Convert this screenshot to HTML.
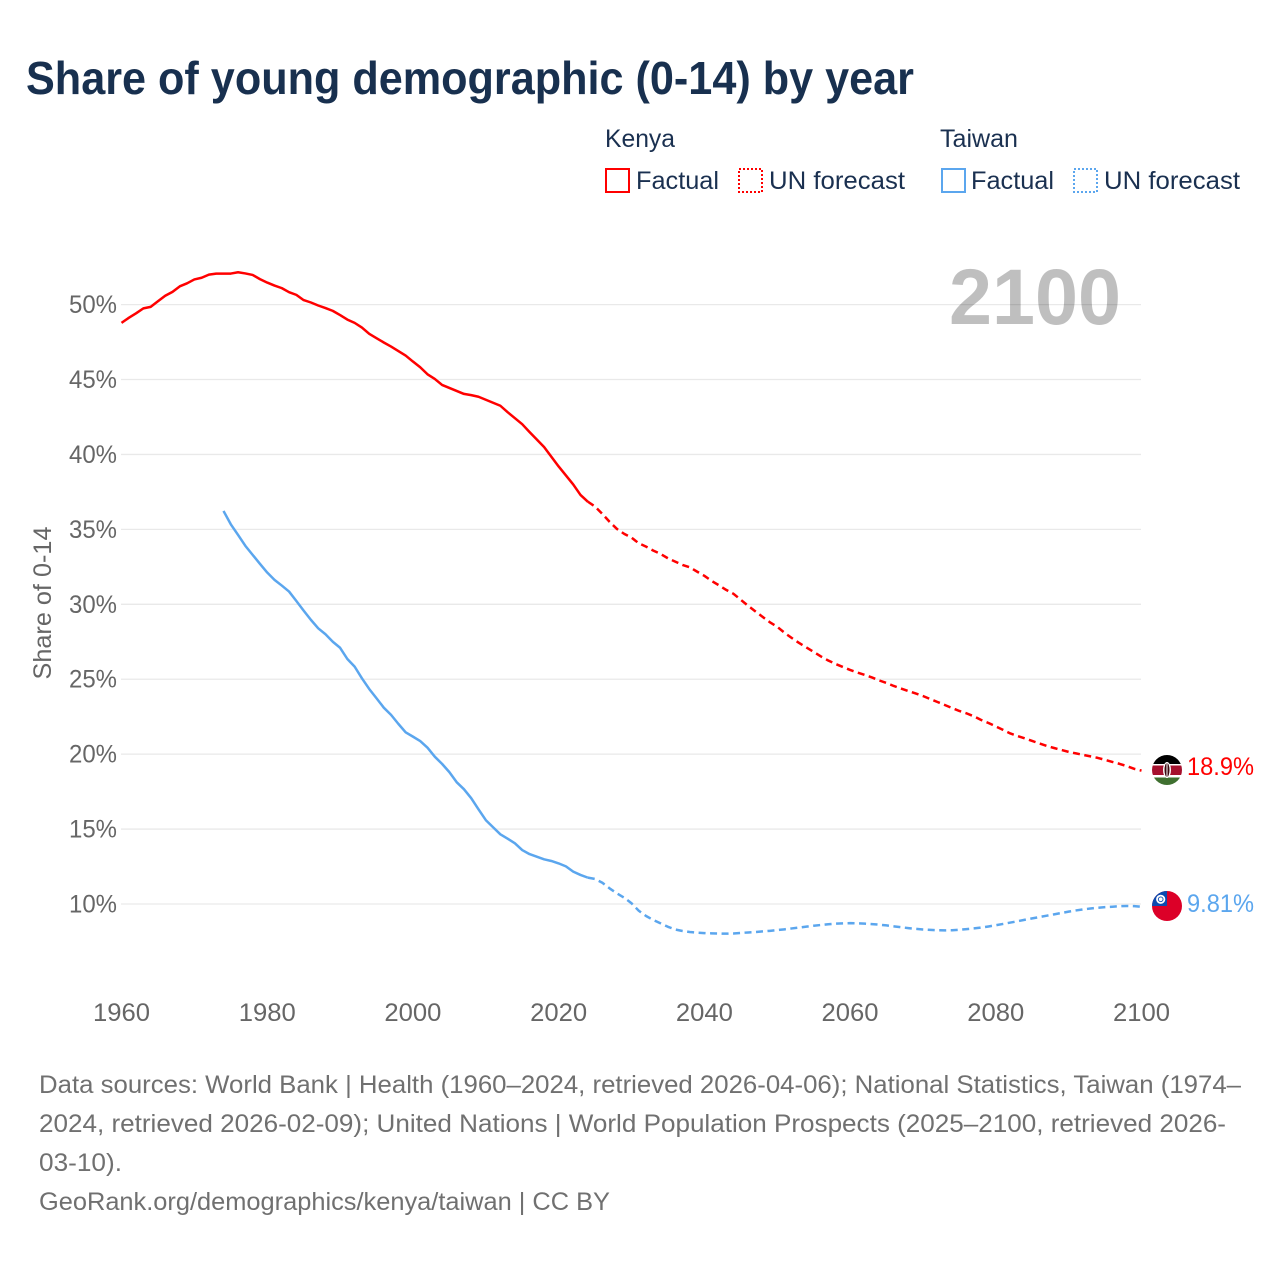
<!DOCTYPE html>
<html lang="en">
<head>
<meta charset="utf-8">
<title>Share of young demographic (0-14) by year</title>
<style>
html,body{margin:0;padding:0;background:#fff;}
svg{display:block;}
text{font-family:"Liberation Sans",sans-serif;}
</style>
</head>
<body>
<svg id="chart" xmlns="http://www.w3.org/2000/svg" width="1280" height="1280" viewBox="0 0 1280 1280">
  <defs>
    <clipPath id="kenya-clip"><circle cx="1167" cy="770" r="15"/></clipPath>
    <clipPath id="taiwan-clip"><circle cx="1167" cy="906" r="15"/></clipPath>
  </defs>
  <rect x="0" y="0" width="1280" height="1280" fill="#ffffff"/>
  <text x="26" y="94" font-size="46" font-weight="700" fill="#18304f" textLength="888" lengthAdjust="spacingAndGlyphs">Share of young demographic (0-14) by year</text>

  <g font-size="25" fill="#1a3050">
    <text x="605" y="147" textLength="70" lengthAdjust="spacingAndGlyphs">Kenya</text>
    <text x="940" y="147" textLength="78" lengthAdjust="spacingAndGlyphs">Taiwan</text>
    <rect x="606" y="169" width="23" height="23" fill="none" stroke="#ff0000" stroke-width="2"/>
    <text x="636" y="189" textLength="83" lengthAdjust="spacingAndGlyphs">Factual</text>
    <rect x="739" y="169" width="23" height="23" fill="none" stroke="#ff0000" stroke-width="2" stroke-dasharray="2,2"/>
    <text x="769" y="189" textLength="136" lengthAdjust="spacingAndGlyphs">UN forecast</text>
    <rect x="942" y="169" width="23" height="23" fill="none" stroke="#5ba6ee" stroke-width="2"/>
    <text x="971" y="189" textLength="83" lengthAdjust="spacingAndGlyphs">Factual</text>
    <rect x="1074" y="169" width="23" height="23" fill="none" stroke="#5ba6ee" stroke-width="2" stroke-dasharray="2,2"/>
    <text x="1104" y="189" textLength="136" lengthAdjust="spacingAndGlyphs">UN forecast</text>
  </g>

  <g id="grid"></g>
  <g id="yticks"></g>
  <g id="xticks"></g>
  <text transform="translate(51,603) rotate(-90)" text-anchor="middle" font-size="25" fill="#666666" textLength="153" lengthAdjust="spacingAndGlyphs">Share of 0-14</text>
  <text x="949" y="324" font-size="79" font-weight="700" fill="#000000" fill-opacity="0.25" textLength="172" lengthAdjust="spacingAndGlyphs">2100</text>
  <g id="series"></g>

  <g clip-path="url(#kenya-clip)">
    <rect x="1150" y="752" width="34" height="12" fill="#000000"/>
    <rect x="1150" y="764" width="34" height="13.5" fill="#ffffff"/>
    <rect x="1150" y="765.5" width="34" height="9.5" fill="#a5112e"/>
    <rect x="1150" y="777.5" width="34" height="10" fill="#3f7030"/>
    <ellipse cx="1167" cy="770" rx="4" ry="8" fill="#ffffff"/>
    <ellipse cx="1167" cy="770" rx="2.5" ry="7" fill="#3b0a10"/>
    <rect x="1166.5" y="762" width="1" height="16" fill="#ffffff"/>
  </g>
  <g clip-path="url(#taiwan-clip)">
    <rect x="1150" y="889" width="34" height="34" fill="#dc0028"/>
    <rect x="1150" y="889" width="17" height="17" fill="#0b4ab0"/>
    <circle cx="1160.7" cy="899.3" r="4.6" fill="#ffffff"/>
    <circle cx="1160.7" cy="899.3" r="2.8" fill="#0b4ab0"/>
    <circle cx="1160.7" cy="899.3" r="1.9" fill="#ffffff"/>
  </g>
  <text id="kenya-end-label" x="1187" y="775" font-size="25" fill="#ff0000" textLength="67" lengthAdjust="spacingAndGlyphs"></text>
  <text id="taiwan-end-label" x="1187" y="912" font-size="25" fill="#5ba6ee" textLength="67" lengthAdjust="spacingAndGlyphs"></text>

  <g font-size="25" fill="#707070">
    <text x="39" y="1093" textLength="1202" lengthAdjust="spacingAndGlyphs">Data sources: World Bank | Health (1960–2024, retrieved 2026-04-06); National Statistics, Taiwan (1974–</text>
    <text x="39" y="1132" textLength="1187" lengthAdjust="spacingAndGlyphs">2024, retrieved 2026-02-09); United Nations | World Population Prospects (2025–2100, retrieved 2026-</text>
    <text x="39" y="1171" textLength="83" lengthAdjust="spacingAndGlyphs">03-10).</text>
    <text x="39" y="1210" textLength="571" lengthAdjust="spacingAndGlyphs">GeoRank.org/demographics/kenya/taiwan | CC BY</text>
  </g>
</svg>
<script>
var xTickYears = [1960, 1980, 2000, 2020, 2040, 2060, 2080, 2100];
var yTickValues = [10, 15, 20, 25, 30, 35, 40, 45, 50];
var kenyaFactualStart = 1960;
var kenyaFactual = [48.78,49.12,49.42,49.75,49.85,50.22,50.59,50.85,51.22,51.42,51.68,51.79,52.0,52.07,52.07,52.07,52.16,52.08,51.98,51.7,51.47,51.27,51.1,50.83,50.65,50.3,50.14,49.94,49.77,49.58,49.3,49.0,48.78,48.47,48.05,47.76,47.47,47.2,46.9,46.6,46.2,45.82,45.35,45.04,44.64,44.44,44.24,44.04,43.96,43.85,43.65,43.45,43.25,42.82,42.42,42.02,41.5,41.0,40.5,39.85,39.2,38.6,38.0,37.3,36.85];
var kenyaForecastStart = 2024;
var kenyaForecast = [36.85,36.52,36.03,35.5,35.03,34.7,34.45,34.07,33.85,33.58,33.36,33.07,32.85,32.63,32.47,32.18,31.9,31.56,31.27,30.96,30.7,30.3,29.9,29.53,29.16,28.8,28.5,28.1,27.75,27.42,27.12,26.82,26.52,26.25,26.02,25.82,25.62,25.45,25.29,25.12,24.92,24.75,24.55,24.38,24.21,24.05,23.88,23.68,23.48,23.28,23.08,22.88,22.72,22.52,22.28,22.08,21.85,21.62,21.38,21.21,21.05,20.88,20.71,20.55,20.41,20.28,20.15,20.05,19.95,19.85,19.75,19.62,19.48,19.35,19.2,19.02,18.9];
var taiwanFactualStart = 1974;
var taiwanFactual = [36.23,35.34,34.63,33.9,33.3,32.7,32.12,31.63,31.25,30.85,30.22,29.58,28.96,28.4,28.0,27.5,27.1,26.35,25.84,25.06,24.35,23.73,23.1,22.62,22.02,21.46,21.17,20.87,20.43,19.83,19.35,18.8,18.13,17.66,17.06,16.32,15.6,15.12,14.65,14.36,14.05,13.6,13.33,13.16,12.98,12.87,12.71,12.51,12.16,11.94,11.76];
var taiwanForecastStart = 2024;
var taiwanForecast = [11.76,11.67,11.42,11.04,10.71,10.42,10.05,9.55,9.2,8.93,8.71,8.48,8.3,8.2,8.13,8.09,8.06,8.04,8.03,8.02,8.03,8.07,8.1,8.13,8.17,8.21,8.26,8.31,8.37,8.43,8.49,8.55,8.6,8.65,8.69,8.71,8.72,8.71,8.69,8.66,8.62,8.57,8.51,8.45,8.39,8.34,8.3,8.27,8.25,8.24,8.25,8.28,8.32,8.37,8.43,8.5,8.58,8.67,8.76,8.85,8.95,9.04,9.13,9.22,9.31,9.4,9.49,9.57,9.64,9.7,9.75,9.79,9.82,9.85,9.87,9.86,9.81];
var kenyaEndLabel = "18.9%";
var taiwanEndLabel = "9.81%";

var NS = "http://www.w3.org/2000/svg";
function xScale(year) { return 121.5 + (year - 1960) * (1020 / 140); }
function yScale(v) { return 904 - (v - 10) * 14.985; }
function pathFor(start, values) {
  var d = "";
  for (var i = 0; i < values.length; i++) {
    d += (i ? "L" : "M") + xScale(start + i).toFixed(2) + " " + yScale(values[i]).toFixed(2);
  }
  return d;
}
function drawLine(start, values, color, dashed, name) {
  var p = document.createElementNS(NS, "path");
  p.setAttribute("d", pathFor(start, values));
  p.setAttribute("fill", "none");
  p.setAttribute("stroke", color);
  p.setAttribute("stroke-width", "2.5");
  p.setAttribute("stroke-linejoin", "round");
  if (dashed) { p.setAttribute("stroke-dasharray", "7,4.5"); }
  
  
  document.getElementById("series").appendChild(p);
}
var gridGroup = document.getElementById("grid");
var yGroup = document.getElementById("yticks");
var xGroup = document.getElementById("xticks");
yTickValues.forEach(function (v) {
  var line = document.createElementNS(NS, "line");
  line.setAttribute("x1", 121);
  line.setAttribute("x2", 1141);
  line.setAttribute("y1", yScale(v));
  line.setAttribute("y2", yScale(v));
  line.setAttribute("stroke", "#e9e9e9");
  line.setAttribute("stroke-width", "1.3");
  
  
  gridGroup.appendChild(line);
  var t = document.createElementNS(NS, "text");
  t.setAttribute("x", 69);
  t.setAttribute("y", yScale(v) + 8.5);
  t.setAttribute("font-size", "25");
  t.setAttribute("fill", "#666666");
  t.setAttribute("textLength", "48");
  t.setAttribute("lengthAdjust", "spacingAndGlyphs");
  t.textContent = v + "%";
  
  
  yGroup.appendChild(t);
});
xTickYears.forEach(function (yr) {
  var t = document.createElementNS(NS, "text");
  t.setAttribute("x", xScale(yr) - 28.5);
  t.setAttribute("y", 1021);
  t.setAttribute("font-size", "25");
  t.setAttribute("fill", "#666666");
  t.setAttribute("textLength", "57");
  t.setAttribute("lengthAdjust", "spacingAndGlyphs");
  t.textContent = yr;
  
  
  xGroup.appendChild(t);
});
drawLine(kenyaFactualStart, kenyaFactual, "#ff0000", false, "kenya-factual-line");
drawLine(kenyaForecastStart, kenyaForecast, "#ff0000", true, "kenya-forecast-line");
drawLine(taiwanFactualStart, taiwanFactual, "#5ba6ee", false, "taiwan-factual-line");
drawLine(taiwanForecastStart, taiwanForecast, "#5ba6ee", true, "taiwan-forecast-line");
document.getElementById("kenya-end-label").textContent = kenyaEndLabel;
document.getElementById("taiwan-end-label").textContent = taiwanEndLabel;
</script>
</body>
</html>
